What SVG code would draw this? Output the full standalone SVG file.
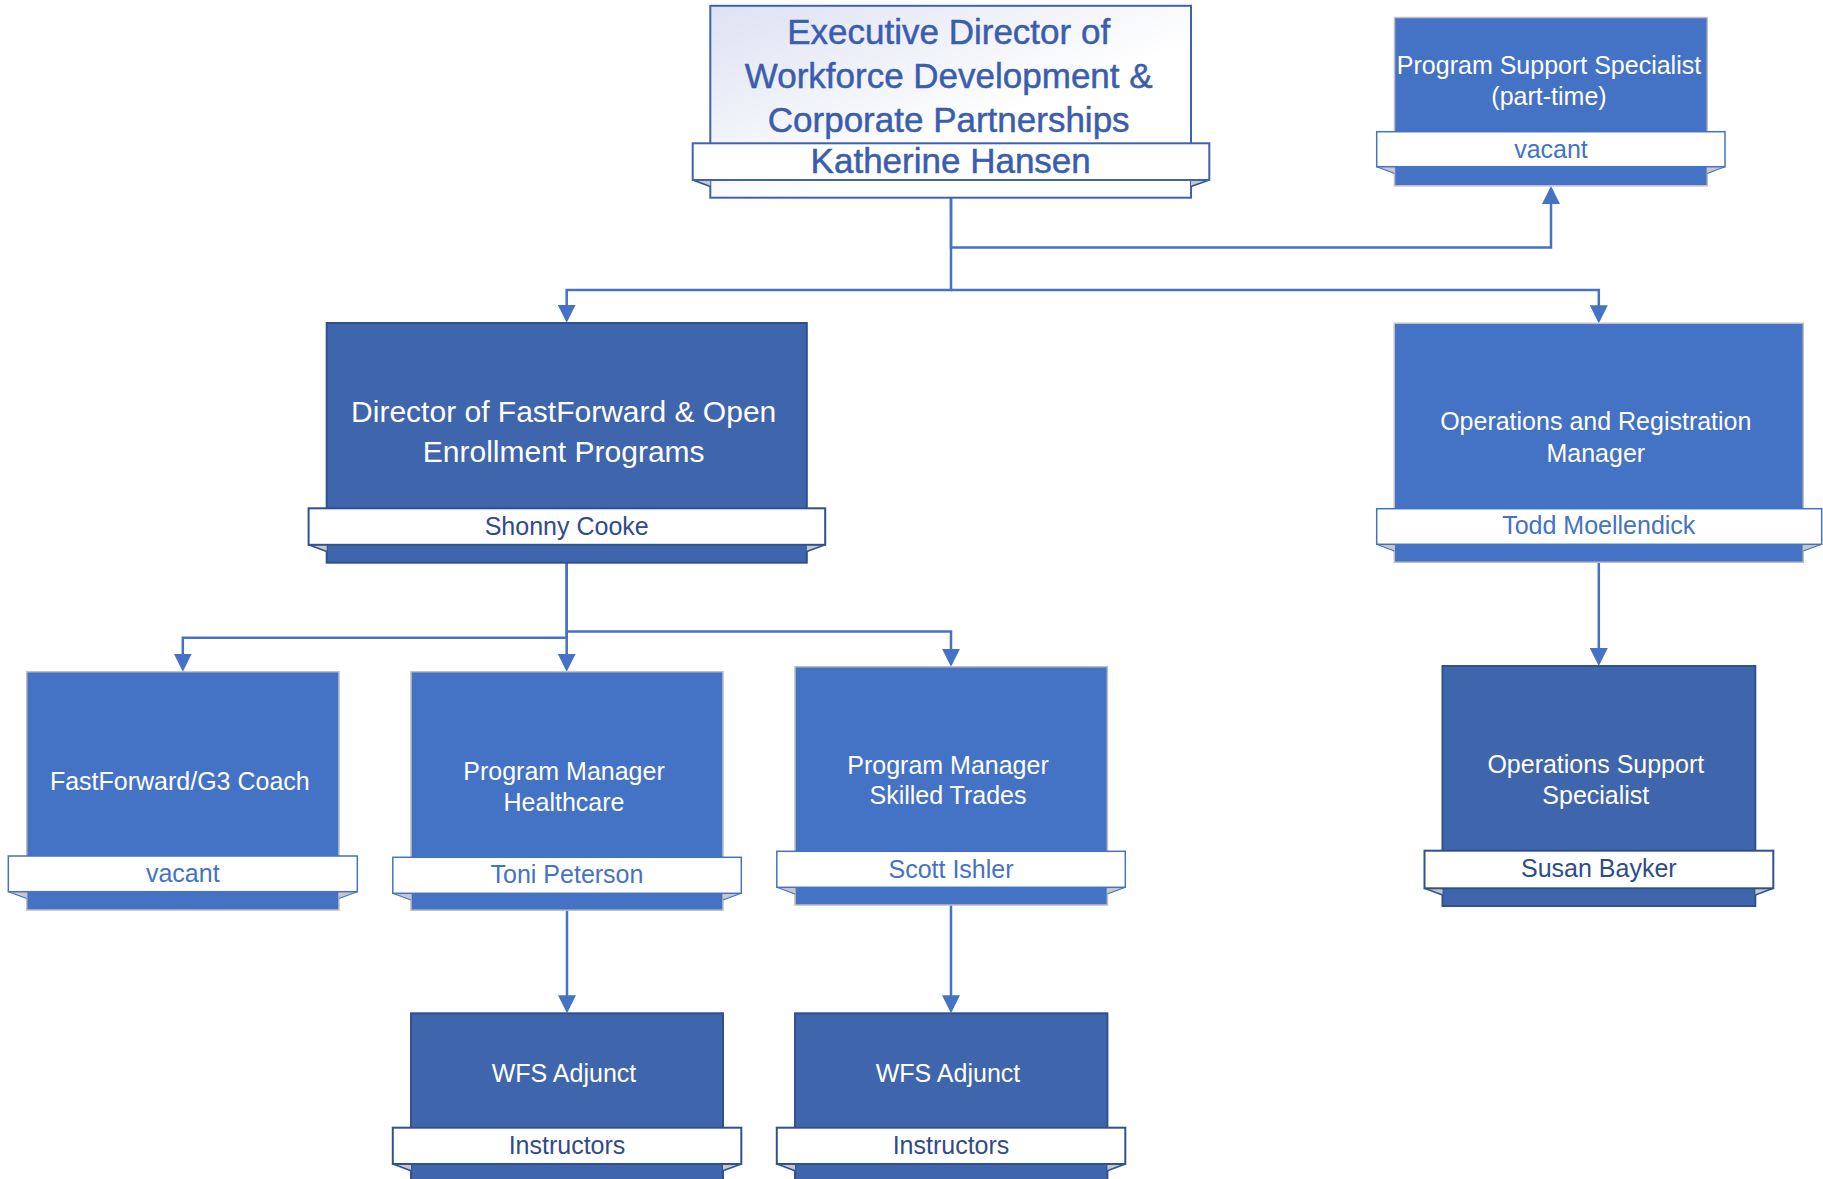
<svg xmlns="http://www.w3.org/2000/svg" width="1823" height="1179" viewBox="0 0 1823 1179">
<defs>
<linearGradient id="topGrad" x1="0" y1="0" x2="1" y2="1">
<stop offset="0" stop-color="#DDE2F2"/>
<stop offset="0.6" stop-color="#FFFFFF"/>
</linearGradient>
<marker id="arr" viewBox="0 0 18 18" refX="15" refY="9" markerWidth="18" markerHeight="18" markerUnits="userSpaceOnUse" orient="auto">
<path d="M0,0 L18,9 L0,18 z" fill="#4472C4"/>
</marker>
</defs>
<style>
text{font-family:"Liberation Sans",Arial,sans-serif;text-anchor:middle}
.boxL{fill:#4472C4;stroke:#BFBFBF;stroke-width:1.5}
.boxD{fill:#3F65AD;stroke:#2F528F;stroke-width:2}
.boxT{fill:url(#topGrad);stroke:#3F62AE;stroke-width:2}
.banL{fill:#FFFFFF;stroke:#4472C4;stroke-width:1.5}
.banD{fill:#FFFFFF;stroke:#2F528F;stroke-width:2}
.banT{fill:#FFFFFF;stroke:#3F62AE;stroke-width:2}
.fold{fill:#C8C8C8}
.foldL{stroke:#4472C4;stroke-width:1.2}
.foldD{stroke:#2F528F;stroke-width:1.5}
.title{fill:#FFFFFF;font-size:25px}
.big{fill:#FFFFFF;font-size:30px}
.nameL{fill:#4472C4;font-size:25px}
.nameD{fill:#2F4B8C;font-size:25px}
.topt{fill:#3A5DAD;stroke:#3A5DAD;stroke-width:0.5;font-size:35px}
.conn{fill:none;stroke:#4472C4;stroke-width:2.5;marker-end:url(#arr)}
</style>

<g id="connectors">
<path class="conn" d="M951,197.7 V247.5 H1551 V189"/>
<path class="conn" d="M951,197.7 V290 H566.7 V319.7"/>
<path class="conn" d="M951,290 H1598.8 V320.3"/>
<path class="conn" d="M566.7,562.7 V637.7 H182.8 V668.7"/>
<path class="conn" d="M566.7,562.7 V668.7"/>
<path class="conn" d="M566.7,631.5 H951 V663.7"/>
<path class="conn" d="M1598.8,562.3 V663"/>
<path class="conn" d="M567,910 V1010.3"/>
<path class="conn" d="M951,905 V1010.3"/>
</g>

<g id="node-executive-director">
<rect class="boxT" x="710.3" y="5.8" width="480.7" height="191.9"/>
<polygon class="fold" points="692.7,180 710.3,180 710.3,186.5"/>
<line class="foldD" x1="692.7" y1="180" x2="710.3" y2="186.5"/>
<polygon class="fold" points="1209.3,180 1191,180 1191,186.5"/>
<line class="foldD" x1="1209.3" y1="180" x2="1191" y2="186.5"/>
<rect class="banT" x="692.7" y="143.3" width="516.6" height="36.7"/>
<text class="topt" x="948.7" y="44">Executive Director of</text>
<text class="topt" x="948.7" y="88.2">Workforce Development &amp;</text>
<text class="topt" x="948.7" y="132.3">Corporate Partnerships</text>
<text class="topt" x="950.7" y="173.3">Katherine Hansen</text>
</g>

<g id="node-program-support-specialist">
<rect class="boxL" x="1394.5" y="17.5" width="312.8" height="168.3"/>
<polygon class="fold" points="1376.7,166.7 1394.5,166.7 1394.5,173.5"/>
<line class="foldL" x1="1376.7" y1="166.7" x2="1394.5" y2="173.5"/>
<polygon class="fold" points="1725,166.7 1707.3,166.7 1707.3,173.5"/>
<line class="foldL" x1="1725" y1="166.7" x2="1707.3" y2="173.5"/>
<rect class="banL" x="1376.7" y="131.7" width="348.3" height="35"/>
<text class="title" x="1549" y="74">Program Support Specialist</text>
<text class="title" x="1549" y="104.5">(part-time)</text>
<text class="nameL" x="1551" y="157.7">vacant</text>
</g>

<g id="node-director-fastforward">
<rect class="boxD" x="326.7" y="323" width="480.1" height="239.7"/>
<polygon class="fold" points="308.6,544.8 326.7,544.8 326.7,551.5"/>
<line class="foldD" x1="308.6" y1="544.8" x2="326.7" y2="551.5"/>
<polygon class="fold" points="825.2,544.8 806.8,544.8 806.8,551.5"/>
<line class="foldD" x1="825.2" y1="544.8" x2="806.8" y2="551.5"/>
<rect class="banD" x="308.6" y="508.3" width="516.6" height="36.5"/>
<text class="big" x="563.7" y="422.4">Director of FastForward &amp; Open</text>
<text class="big" x="563.7" y="461.8">Enrollment Programs</text>
<text class="nameD" x="566.7" y="534.5">Shonny Cooke</text>
</g>

<g id="node-operations-registration-manager">
<rect class="boxL" x="1394.3" y="323.3" width="409" height="239"/>
<polygon class="fold" points="1376.7,544.3 1394.3,544.3 1394.3,551"/>
<line class="foldL" x1="1376.7" y1="544.3" x2="1394.3" y2="551"/>
<polygon class="fold" points="1821.7,544.3 1803.3,544.3 1803.3,551"/>
<line class="foldL" x1="1821.7" y1="544.3" x2="1803.3" y2="551"/>
<rect class="banL" x="1376.7" y="508.7" width="445" height="35.6"/>
<text class="title" x="1595.8" y="430">Operations and Registration</text>
<text class="title" x="1595.8" y="462">Manager</text>
<text class="nameL" x="1598.8" y="534.3">Todd Moellendick</text>
</g>

<g id="node-fastforward-coach">
<rect class="boxL" x="26.7" y="671.7" width="312.3" height="238.3"/>
<polygon class="fold" points="8.3,891.7 26.7,891.7 26.7,898.5"/>
<line class="foldL" x1="8.3" y1="891.7" x2="26.7" y2="898.5"/>
<polygon class="fold" points="357.3,891.7 339,891.7 339,898.5"/>
<line class="foldL" x1="357.3" y1="891.7" x2="339" y2="898.5"/>
<rect class="banL" x="8.3" y="856" width="349" height="35.7"/>
<text class="title" x="179.8" y="790">FastForward/G3 Coach</text>
<text class="nameL" x="182.8" y="881.7">vacant</text>
</g>

<g id="node-pm-healthcare">
<rect class="boxL" x="411" y="671.7" width="312" height="238.5"/>
<polygon class="fold" points="392.8,893.3 411,893.3 411,900"/>
<line class="foldL" x1="392.8" y1="893.3" x2="411" y2="900"/>
<polygon class="fold" points="741.3,893.3 723,893.3 723,900"/>
<line class="foldL" x1="741.3" y1="893.3" x2="723" y2="900"/>
<rect class="banL" x="392.8" y="857.3" width="348.5" height="36"/>
<text class="title" x="564" y="779.5">Program Manager</text>
<text class="title" x="564" y="811">Healthcare</text>
<text class="nameL" x="567" y="883.3">Toni Peterson</text>
</g>

<g id="node-pm-skilled-trades">
<rect class="boxL" x="795" y="666.7" width="312.4" height="238.3"/>
<polygon class="fold" points="776.8,887.3 795,887.3 795,894"/>
<line class="foldL" x1="776.8" y1="887.3" x2="795" y2="894"/>
<polygon class="fold" points="1125.3,887.3 1107.4,887.3 1107.4,894"/>
<line class="foldL" x1="1125.3" y1="887.3" x2="1107.4" y2="894"/>
<rect class="banL" x="776.8" y="851.3" width="348.5" height="36"/>
<text class="title" x="948" y="774">Program Manager</text>
<text class="title" x="948" y="804.3">Skilled Trades</text>
<text class="nameL" x="951" y="877.7">Scott Ishler</text>
</g>

<g id="node-operations-support-specialist">
<rect class="boxD" x="1442.5" y="666" width="312.8" height="240"/>
<polygon class="fold" points="1424.5,888.3 1442.5,888.3 1442.5,895"/>
<line class="foldD" x1="1424.5" y1="888.3" x2="1442.5" y2="895"/>
<polygon class="fold" points="1773.3,888.3 1755.3,888.3 1755.3,895"/>
<line class="foldD" x1="1773.3" y1="888.3" x2="1755.3" y2="895"/>
<rect class="banD" x="1424.5" y="850.7" width="348.8" height="37.6"/>
<text class="title" x="1595.8" y="772.7">Operations Support</text>
<text class="title" x="1595.8" y="804.3">Specialist</text>
<text class="nameD" x="1598.8" y="877.3">Susan Bayker</text>
</g>

<g id="node-wfs-adjunct-healthcare">
<rect class="boxD" x="411" y="1013.3" width="312" height="168"/>
<polygon class="fold" points="392.8,1164 411,1164 411,1170.7"/>
<line class="foldD" x1="392.8" y1="1164" x2="411" y2="1170.7"/>
<polygon class="fold" points="741.3,1164 723,1164 723,1170.7"/>
<line class="foldD" x1="741.3" y1="1164" x2="723" y2="1170.7"/>
<rect class="banD" x="392.8" y="1127.7" width="348.5" height="36.3"/>
<text class="title" x="564" y="1081.7">WFS Adjunct</text>
<text class="nameD" x="567" y="1154">Instructors</text>
</g>

<g id="node-wfs-adjunct-skilled">
<rect class="boxD" x="795" y="1013.3" width="312.4" height="168"/>
<polygon class="fold" points="776.8,1164 795,1164 795,1170.7"/>
<line class="foldD" x1="776.8" y1="1164" x2="795" y2="1170.7"/>
<polygon class="fold" points="1125.3,1164 1107.4,1164 1107.4,1170.7"/>
<line class="foldD" x1="1125.3" y1="1164" x2="1107.4" y2="1170.7"/>
<rect class="banD" x="776.8" y="1127.7" width="348.5" height="36.3"/>
<text class="title" x="948" y="1081.7">WFS Adjunct</text>
<text class="nameD" x="951" y="1154">Instructors</text>
</g>
</svg>
